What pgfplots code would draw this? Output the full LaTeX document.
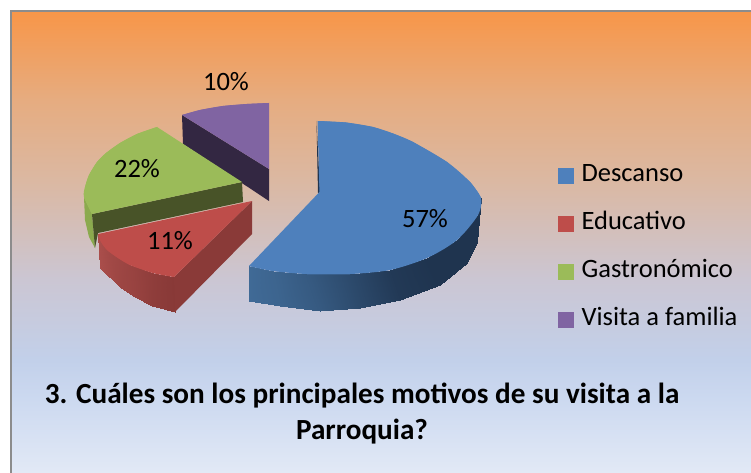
\documentclass[border=0pt]{standalone}
\usepackage{pgfplots}
\pgfplotsset{compat=1.18}
\usepackage{fontspec}
\setmainfont{Carlito}
\definecolor{cblue}{RGB}{78,128,188}
\definecolor{cred}{RGB}{190,77,74}
\definecolor{cgreen}{RGB}{155,187,89}
\definecolor{cpurple}{RGB}{128,100,162}
\definecolor{dpurple}{RGB}{51,39,66}
\definecolor{dgreen}{RGB}{72,83,40}
\definecolor{dred}{RGB}{138,58,56}
\definecolor{sgreen}{RGB}{139,170,78}
\definecolor{dblue}{RGB}{31,52,79}
\definecolor{g0}{RGB}{226,233,246}
\definecolor{g1}{RGB}{204,217,240}
\definecolor{g2}{RGB}{194,208,234}
\definecolor{g3}{RGB}{203,198,211}
\definecolor{g4}{RGB}{219,184,162}
\definecolor{g5}{RGB}{230,172,128}
\definecolor{g6}{RGB}{248,150,72}
\pgfdeclareverticalshading{panel}{100bp}{
 color(0bp)=(g0);
 color(25bp)=(g0);
 color(33bp)=(g1);
 color(37.2bp)=(g2);
 color(45.9bp)=(g3);
 color(56.7bp)=(g4);
 color(65.4bp)=(g5);
 color(75bp)=(g6);
 color(100bp)=(g6)}
\begin{document}
\begin{tikzpicture}
\begin{axis}[
  scale only axis, width=751pt, height=473pt,
  xmin=0, xmax=751, ymin=0, ymax=473, y dir=reverse,
  axis lines=none, clip=true,
  colormap={walls}{rgb255(0)=(31,52,79) rgb255(10)=(64,106,150) rgb255(20)=(136,57,55) rgb255(30)=(170,78,75)},
  point meta min=0, point meta max=30,
  legend style={at={(axis cs:558,164)}, anchor=north west, draw=none, fill=none,
    font=\fontsize{26.5pt}{27pt}\selectfont, row sep=25pt, inner sep=0pt,
    nodes={text height=17pt, text depth=6pt, inner sep=0pt, anchor=west}},
  legend cell align=left,
  every axis plot/.append style={forget plot},
  legend image code/.code={},
]
% page and background panel
\fill[white] (axis cs:0,0) rectangle (axis cs:751,473);
\path[shading=panel, shading angle=0] (axis cs:11,11) rectangle (axis cs:751,473);
\draw[color=black!45, line width=2.4pt] (axis cs:11,473) -- (axis cs:11,11) -- (axis cs:751,11);

% Visita a familia (10%)
\addplot[fill=dpurple, draw=none] coordinates {(182,115) (269,169) (269,201) (183,144)};
\addplot[smooth, fill=cpurple, draw=none] coordinates {(182,115) (200,110) (223,106) (247,104) (269,103)};
\addplot[fill=cpurple, draw=none] coordinates {(182,115) (200,110) (223,106) (247,104) (269,103) (269,169)};

% Gastronomico (22%)
\addplot[fill=sgreen, draw=none] coordinates {(84,197) (92,214) (95,248) (89,237) (85,220)};
\addplot[fill=dgreen, draw=none] coordinates {(92,214) (242,182) (243,202) (98,233) (95,248)};
\addplot[smooth, fill=cgreen, draw=none] coordinates {(157,127) (137,134) (120,143) (106,153) (97,162) (89,175) (85,187) (84,197) (92,214)};
\addplot[fill=cgreen, draw=none] coordinates {(157,127) (137,134) (120,143) (106,153) (97,162) (89,175) (85,187) (84,197) (92,214) (242,182)};

% Educativo (11%)
\addplot[patch, patch type=rectangle, shader=interp, point meta=explicit] coordinates {
 (98,234) [30] (100,268) [30] (120,287) [26] (107,250) [28]
 (107,250) [28] (120,287) [26] (133,296) [25] (130,265) [25]
 (130,265) [25] (133,296) [25] (152,306) [22] (153,273) [22]
 (153,273) [22] (152,306) [22] (175,312) [20] (174,277) [20]
};
\addplot[fill=dred, draw=none] coordinates {(174,277) (252,201) (252,234) (175,312)};
\addplot[smooth, fill=cred, draw=none] coordinates {(98,234) (101,242) (107,250) (118,258) (130,265) (153,273) (174,277)};
\addplot[fill=cred, draw=none] coordinates {(98,234) (101,242) (107,250) (118,258) (130,265) (153,273) (174,277) (252,201)};

% Descanso (57%)
\addplot[patch, patch type=rectangle, shader=interp, point meta=explicit] coordinates {
 (249,266) [10] (249,301) [10] (280,306) [9] (273,271) [9]
 (273,271) [9] (280,306) [9] (320,311) [7] (307,274) [7]
 (307,274) [7] (320,311) [7] (360,308) [4] (350,274) [4]
 (350,274) [4] (360,308) [4] (400,300) [1] (390,270) [1]
 (390,270) [1] (400,300) [1] (440,285) [0] (427,258) [0]
 (427,258) [0] (440,285) [0] (467,263) [0] (457,240) [0]
 (457,240) [0] (467,263) [0] (477,242) [0] (478,215) [0]
 (478,215) [0] (477,242) [0] (480,208) [0] (481,198) [0]
};
\addplot[fill=dblue, draw=none] coordinates {(316.5,121) (320,192) (318,193)};
\addplot[smooth, fill=cblue, draw=none] coordinates {(317.5,121) (346,122.5) (373,127) (393,133.5) (413,142) (447,162) (470,182) (481,198)};
\addplot[smooth, fill=cblue, draw=none] coordinates {(470,182) (481,198) (478,215) (457,240) (427,258) (390,270) (350,274) (307,274)};
\addplot[smooth, fill=cblue, draw=none] coordinates {(350,274) (307,274) (273,271) (249,266)};
\addplot[fill=cblue, draw=none] coordinates {(317.5,121) (346,122.5) (373,127) (393,133.5) (413,142) (447,162) (470,182) (481,198) (478,215) (457,240) (427,258) (390,270) (350,274) (307,274) (273,271) (249,266) (319.5,192)};

% data labels
\node[font=\fontsize{26.5pt}{27pt}\selectfont] at (axis cs:226,82) {10\%};
\node[font=\fontsize{26.5pt}{27pt}\selectfont] at (axis cs:137,169) {22\%};
\node[font=\fontsize{26.5pt}{27pt}\selectfont] at (axis cs:170,241) {11\%};
\node[font=\fontsize{26.5pt}{27pt}\selectfont] at (axis cs:425,219) {57\%};

% title
\node[font=\fontsize{29.2pt}{36pt}\selectfont\bfseries, align=center, anchor=north] at (axis cs:362,379) {3. Cuáles son los principales motivos de su visita a la\\Parroquia?};

% legend
\addlegendimage{legend image code/.code={\fill[cblue] (0pt,-7.5pt) rectangle (15pt,7.5pt);\path (23pt,0pt);}}
\addlegendentry{Descanso}
\addlegendimage{legend image code/.code={\fill[cred] (0pt,-7.5pt) rectangle (15pt,7.5pt);\path (23pt,0pt);}}
\addlegendentry{Educativo}
\addlegendimage{legend image code/.code={\fill[cgreen] (0pt,-7.5pt) rectangle (15pt,7.5pt);\path (23pt,0pt);}}
\addlegendentry{Gastronómico}
\addlegendimage{legend image code/.code={\fill[cpurple] (0pt,-7.5pt) rectangle (15pt,7.5pt);\path (23pt,0pt);}}
\addlegendentry{Visita a familia}
\end{axis}
\end{tikzpicture}
\end{document}
